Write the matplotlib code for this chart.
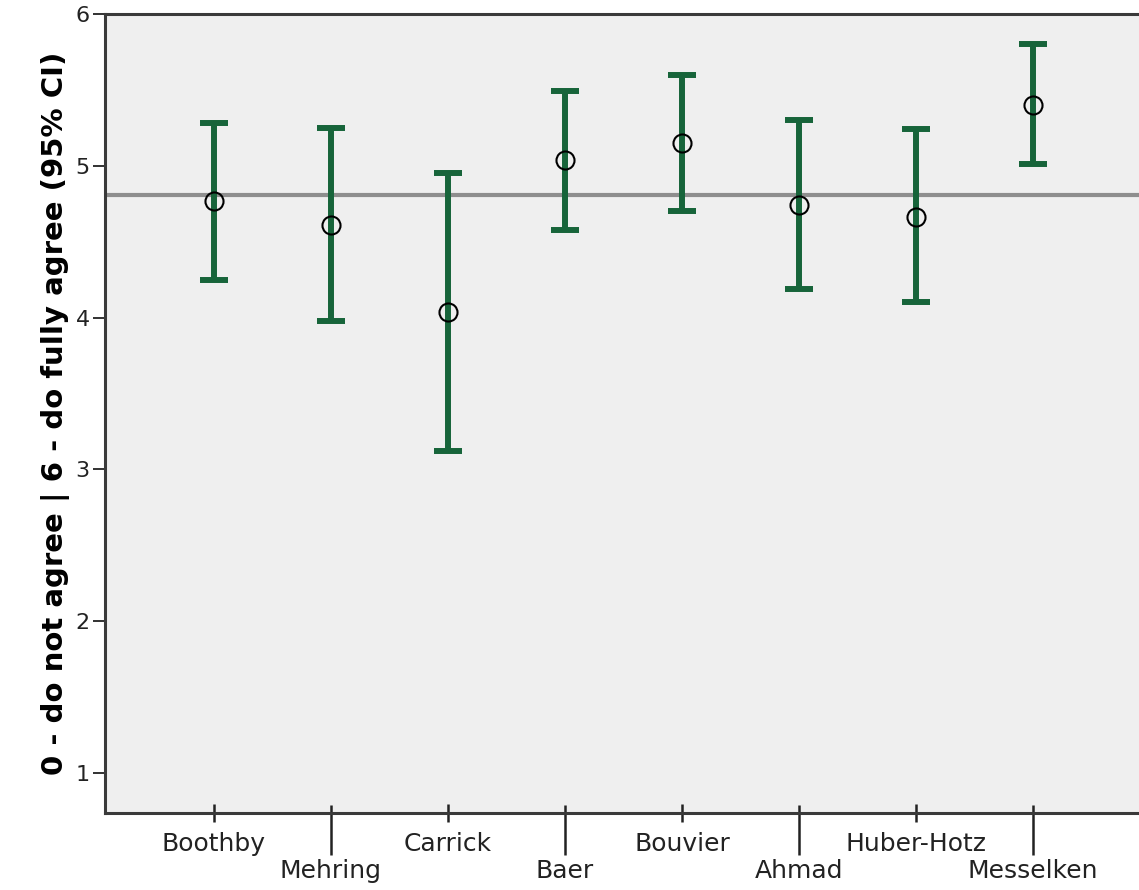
import matplotlib
matplotlib.use("Agg")
import matplotlib.pyplot as plt
import numpy as np

nomes = ["Boothby", "Mehring", "Carrick", "Baer", "Bouvier", "Ahmad", "Huber-Hotz", "Messelken"]
medias = [4.77, 4.61, 4.04, 5.04, 5.15, 4.74, 4.66, 5.40]
ic_inf = [4.25, 3.98, 3.12, 4.58, 4.70, 4.19, 4.10, 5.01]
ic_sup = [5.28, 5.25, 4.95, 5.49, 5.60, 5.30, 5.24, 5.80]
media_geral = 4.81

verde = "#17643a"
fundo = "#efefef"

fig = plt.figure(figsize=(11.39, 8.90), dpi=100)
ax = fig.add_axes([105 / 1139, 1 - 813 / 890, 1037 / 1139, 799 / 890])
ax.set_facecolor(fundo)

x = np.arange(len(nomes))
medias = np.array(medias)
err = [medias - np.array(ic_inf), np.array(ic_sup) - medias]

ax.axhline(media_geral, color="#8e8e8e", lw=3, zorder=1)
ax.errorbar(x, medias, yerr=err, fmt="none", ecolor=verde, elinewidth=4.3,
            capsize=10, capthick=4.3, zorder=2)
ax.plot(x, medias, "o", ms=13, mfc="none", mec="black", mew=1.5, zorder=3)

ax.set_xlim(-0.93, 7.93)
ax.set_ylim(0.737, 6)

# eixo y
ax.set_yticks([1, 2, 3, 4, 5, 6])
ax.tick_params(axis="y", direction="out", length=9, width=1.3, labelsize=16,
               pad=2, colors="#222222")
ax.set_ylabel("0 - do not agree | 6 - do fully agree (95% CI)", fontsize=21,
              fontweight="bold", labelpad=4)

# eixo x: rótulos em duas linhas alternadas
pares = x[0::2]
impares = x[1::2]
ax.set_xticks(pares)
ax.set_xticklabels(nomes[0::2])
ax.set_xticks(impares, minor=True)
ax.set_xticklabels(nomes[1::2], minor=True)
ax.tick_params(axis="x", which="major", direction="inout", length=13, width=1.8,
               labelsize=18, pad=7, colors="#222222")
ax.tick_params(axis="x", which="minor", direction="out", length=30, width=1.8,
               labelsize=18, pad=3, colors="#222222")

sec = ax.secondary_xaxis("bottom")
sec.set_xticks(impares)
sec.set_xticklabels([])
sec.tick_params(direction="in", length=6, width=1.8, color="#222222")
sec.spines["bottom"].set_visible(False)

for lado in ["left", "bottom", "top"]:
    ax.spines[lado].set_linewidth(2.2)
    ax.spines[lado].set_color("#3a3a3a")
ax.spines["right"].set_visible(False)

fig.savefig("out.png", dpi=100, facecolor="white")
